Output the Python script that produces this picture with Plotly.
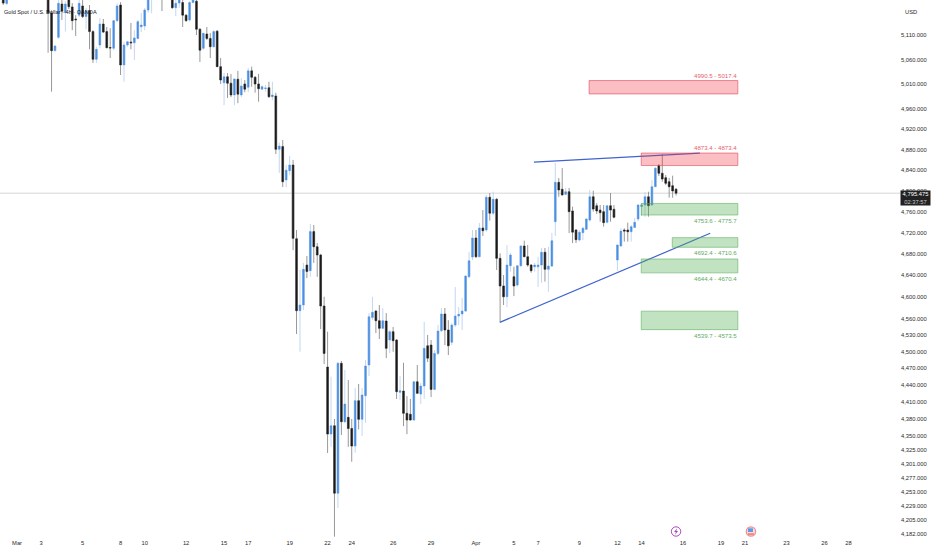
import math
import plotly.graph_objects as go

N = None

OPEN = [
    5195, 5175, N, N, N, N, N, N, N, N,
    N, N, N, 5195, 5155.4, 5077.9, 5105.3, 5174, 5156, 5186,
    5168, 5143, 5151, 5170, 5148, 5160, 5117, 5060.4, 5089.5, 5132.6,
    5117, 5084.4, 5082.8, 5139.5, 5172, 5049, 5089.5, 5095.7, 5094, 5103,
    5127, 5128.6, 5161.6, 5192, N, N, 5215, N, N, 5193,
    5166.5, 5176, 5177, 5151, 5141, 5177, 5180, 5122, 5082.8, 5112,
    5103, 5086, 5118, 5045.5, 5013, 5025, 5012, 4988.4, 5020, 4988.4,
    5010.5, 5004, 5037, 5024, 5010.5, 5000, 5001.4, 5003, 4985, 4986.4,
    4880.7, 4886, 4821, 4839, 4850, 4708.6, 4574.3, 4584.8, 4659, 4648.4,
    4722, 4693.4, 4677.8, 4583, 4472, 4353.2, 4367.8, 4251, 4478.7, 4374.8,
    4382.5, 4363, 4332.3, 4412, 4379, 4420.7, 4475.6, 4562, 4573.7, 4556,
    4542, 4555.4, 4520.8, 4536, 4520.8, 4426.8, 4429, 4389.6, 4388, 4377.8,
    4445.6, 4423.7, 4438, 4510.4, 4511.6, 4432, 4496.6, 4537.7, 4568.3, 4539,
    4516.6, 4548, 4564.6, 4568.3, 4573.7, 4637.3, 4674, 4709.9, 4674.6, 4728.9,
    4725, 4787.5, 4757, 4783.7, 4671.6, 4620, 4600, 4657.7, 4637.2, 4621.7,
    4657.7, 4694.8, 4674.6, 4659, 4655.8, 4655.8, 4659, 4683, 4651, 4657,
    4740.9, 4816.4, 4803, 4793.2, 4798.3, 4761.3, 4725, 4706, 4720, 4726.4,
    4744, 4788.6, 4771.4, 4763, 4760, 4739.7, 4771.4, 4764.5, 4668.4, 4694.8,
    4725, 4725, 4721.8, 4730, 4746, 4770, 4772.7, 4788.6, 4772.7, 4808,
    4848.7, 4834, 4825.4, 4817.6, 4809.9, 4803,
]
HIGH = [
    5200, 5200, N, N, N, N, N, N, N, N,
    N, N, N, 5200, 5161, 5089.5, 5182, 5185, 5180, 5190,
    5176, 5151, 5185, 5184, 5166, 5172, 5120, 5086, 5145, 5143,
    5126.5, 5124, 5141, 5175.5, 5178, 5096.3, 5098, 5134.7, 5120, 5141,
    5155, 5166, 5195, 5220, N, N, 5225, N, N, 5200,
    5183, 5195, 5185, 5153, 5180, 5195, 5190, 5124, 5114, 5126.5,
    5114, 5120, 5120, 5063, 5032.6, 5032.6, 5030.6, 5022.5, 5037, 5022.5,
    5018.5, 5042.7, 5045.5, 5026.5, 5030.6, 5008.5, 5008.5, 5015, 5015, 4993,
    4893.7, 4899, 4850, 4867.6, 4860, 4725, 4649.7, 4663, 4676, 4736.5,
    4734.6, 4700.4, 4680, 4600, 4535.9, 4454.6, 4379.6, 4481.5, 4482.8, 4466.6,
    4448.7, 4379.6, 4434.4, 4441.6, 4434.4, 4484.6, 4570, 4600, 4575.6, 4584.8,
    4579, 4570, 4539, 4544.4, 4522.6, 4456, 4479.7, 4420, 4415, 4447,
    4475.6, 4443.4, 4554, 4530, 4520.8, 4502.6, 4548, 4579.3, 4579.3, 4557,
    4551.8, 4618, 4581, 4597.7, 4639.3, 4683.4, 4725, 4725, 4738.4, 4763,
    4792, 4795.8, 4798.3, 4786, 4681, 4640.4, 4696.6, 4681.6, 4655.8, 4659,
    4696.6, 4704.8, 4696.6, 4661, 4663, 4674.6, 4691, 4691, 4693.4, 4719.3,
    4854, 4824.7, 4844, 4805.4, 4805.4, 4769.5, 4727, 4725, 4731.4, 4747.4,
    4801.6, 4800.3, 4776.5, 4772.7, 4772.7, 4772.7, 4795.8, 4772.7, 4697.5, 4728.3,
    4728.3, 4739, 4734.6, 4748, 4774.6, 4776.5, 4797.7, 4798.3, 4821, 4846,
    4852, 4871.5, 4830.6, 4824.7, 4829.3, 4805.4,
]
LOW = [
    5172, 5172, N, N, N, N, N, N, N, N,
    N, N, N, 5073.8, 4995, 5077, 5102, 5141, 5117, 5163.7,
    5120, 5108, 5147, 5145, 5122, 5081, 5053, 5053, 5083, 5114,
    5083, 5063, 5079, 5137.5, 5028.6, 5015, 5086, 5081, 5059, 5101,
    5116, 5120, 5156, 5155, N, N, 5159.5, N, N, 5164,
    5149, 5166, 5126.5, 5137.5, 5137.5, 5176, 5110, 5055, 5079.3, 5099.8,
    5063, 5085, 5045, 5010.5, 4968, 4982.4, 4984, 4968, 4972, 4984,
    4994, 4994, 5005, 4993, 4975, 4998.4, 4995, 4982.4, 4978, 4871.5,
    4834.5, 4807.4, 4807.4, 4830.6, 4687, 4531.7, 4499.6, 4575.6, 4634.7, 4637,
    4663, 4637, 4540.8, 4477.4, 4320.2, 4331, 4177.4, 4225.8, 4351.5, 4372.5,
    4331, 4305, 4320.7, 4361.4, 4349.7, 4373, 4456, 4557, 4533.5, 4522.6,
    4541.5, 4488, 4497, 4499.5, 4415, 4413, 4367, 4353, 4377, 4377,
    4424.6, 4406, 4415, 4481, 4418.4, 4430.9, 4493.6, 4535, 4511.6, 4493.6,
    4511.6, 4544.4, 4548, 4539, 4572.5, 4634.7, 4668.4, 4672, 4673.4, 4713.7,
    4721.8, 4742.8, 4753.7, 4649.7, 4554, 4584.8, 4581, 4646.5, 4601.3, 4618.6,
    4655.8, 4674, 4655.8, 4644.6, 4646.5, 4618, 4626, 4628, 4609.3, 4655.8,
    4713.7, 4788.6, 4791.4, 4792, 4719.3, 4700.4, 4700.4, 4703, 4706, 4725,
    4740.9, 4760, 4755.6, 4740.9, 4731.4, 4737.8, 4740.9, 4747.4, 4648.4, 4693.4,
    4703, 4703, 4703, 4729.8, 4742, 4751.7, 4749.8, 4750.4, 4770.8, 4807.4,
    4828.7, 4817.6, 4811, 4786.7, 4786.7, 4791,
]
CLOSE = [
    5176, 5195, N, N, N, N, N, N, N, N,
    N, N, N, 5156, 5077.9, 5087.5, 5175.5, 5159, 5174, 5168.5,
    5139.5, 5141.5, 5175.5, 5148, 5160, 5117, 5060.4, 5080.7, 5132.6, 5116,
    5084, 5083.4, 5139.5, 5170, 5049, 5089.5, 5096.3, 5094, 5104, 5137.5,
    5130.6, 5161.6, 5190, 5210, N, N, 5195, N, N, 5166.5,
    5175.5, 5187, 5151, 5139.5, 5177, 5189, 5122, 5079, 5113.4, 5103,
    5086, 5117, 5045.5, 5018.5, 5025, 5012, 4988.4, 5020.5, 4990, 5006.5,
    5000, 5037, 5024, 5010.5, 5001, 5005, 5002.4, 4985, 4988.4, 4880.7,
    4887, 4817.6, 4840, 4850, 4709.3, 4574.3, 4584.8, 4651, 4647, 4722,
    4693.4, 4677.8, 4583, 4496.6, 4353.2, 4367.8, 4251, 4478.7, 4374.8, 4406,
    4363, 4332.3, 4412, 4379, 4422, 4473.8, 4563.3, 4571.4, 4556, 4542,
    4556, 4505.7, 4536, 4519.5, 4428, 4429.6, 4389.6, 4377.8, 4377.8, 4445.6,
    4425, 4438, 4505.7, 4488, 4432, 4496.6, 4537, 4568.3, 4539, 4510.4,
    4548, 4564.6, 4567.7, 4573.7, 4638.5, 4667, 4709.9, 4674.6, 4728.9, 4723.7,
    4787.5, 4757, 4783.7, 4671.6, 4620, 4600, 4659, 4677.8, 4620, 4657.7,
    4694.8, 4674.6, 4659, 4648.4, 4659, 4659, 4683, 4651, 4657, 4704.8,
    4816.4, 4801.6, 4792, 4798.3, 4760, 4721, 4706.7, 4720.6, 4728.3, 4746,
    4788.6, 4765, 4761.3, 4758, 4739, 4771.4, 4763, 4749.3, 4696.6, 4723,
    4723, 4721.8, 4731.4, 4739.7, 4772.7, 4772.7, 4788.6, 4771.4, 4808, 4843.6,
    4834, 4822.8, 4814.5, 4808, 4799.7, 4795.5,
]

X_TICK_POS = [4, 11, 23, 34, 41, 53, 64, 71, 83, 94, 101, 113, 124,
              137, 148, 155, 167, 178, 185, 197, 208, 215, 227, 238, 245]
X_TICK_TEXT = ['Mar', '3', '5', '8', '10', '12', '15', '17', '19', '22', '24', '26', '29',
               'Apr', '5', '7', '9', '12', '14', '16', '19', '21', '23', '26', '28']
Y_TICKS = [5110, 5060, 5010, 4960, 4920, 4880, 4840, 4800, 4760, 4720, 4680, 4640, 4600,
           4560, 4530, 4500, 4470, 4440, 4410, 4380, 4350, 4325, 4301, 4277, 4253, 4229, 4205, 4182]

LAST_PRICE = 4795.475
COUNTDOWN = '02:37:57'

RED_LOW = [4990.5, 4849.0]
RED_HIGH = [5017.4, 4873.4]
RED_LEFT = [169.8, 184.9]
RED_TEXT = ['4990.5 - 5017.4', '4873.4 - 4873.4']

GREEN_LOW = [4753.6, 4692.4, 4644.4, 4539.7]
GREEN_HIGH = [4775.7, 4710.6, 4670.4, 4573.5]
GREEN_LEFT = [184.9, 193.9, 184.9, 184.9]
GREEN_TEXT = ['4753.6 - 4775.7', '4692.4 - 4710.6', '4644.4 - 4670.4', '4539.7 - 4573.5']
ZONE_RIGHT = 212.9

TREND_X = [[153.8, 201.9], [143.9, 204.9]]
TREND_Y = [[4855.5, 4873.2], [4553.0, 4718.8]]

X_RANGE = [-0.94, 259.9]
Y_RANGE = [4175.2, 5182.4]

BLUE = '#4a90e2'
BLACK = '#1b1b1b'
TICK_FONT = dict(family='Liberation Sans', size=5.8, color='#2a2a2a')


def add_candles(fig):
    xs = list(range(len(OPEN)))
    # wicks first in a paler tone, bodies on top without wicks
    fig.add_trace(go.Candlestick(
        x=xs, open=OPEN, high=HIGH, low=LOW, close=CLOSE,
        increasing=dict(line=dict(color='#bcd3f2', width=0.9), fillcolor='rgba(0,0,0,0)'),
        decreasing=dict(line=dict(color='#8c8c8c', width=0.9), fillcolor='rgba(0,0,0,0)'),
        whiskerwidth=0, hoverinfo='skip', showlegend=False,
    ))
    tops = [None if o is None else max(o, c) for o, c in zip(OPEN, CLOSE)]
    bots = [None if o is None else min(o, c) for o, c in zip(OPEN, CLOSE)]
    fig.add_trace(go.Candlestick(
        x=xs, open=OPEN, high=tops, low=bots, close=CLOSE,
        increasing=dict(line=dict(color=BLUE, width=0.3), fillcolor=BLUE),
        decreasing=dict(line=dict(color=BLACK, width=0.3), fillcolor=BLACK),
        whiskerwidth=0, hoverinfo='skip', showlegend=False,
    ))


def add_zones(fig):
    for lo, hi, left, label in zip(RED_LOW, RED_HIGH, RED_LEFT, RED_TEXT):
        fig.add_shape(type='rect', x0=left, x1=ZONE_RIGHT, y0=lo, y1=hi, layer='above',
                      fillcolor='rgba(242,54,69,0.32)', line=dict(color='rgba(225,60,80,0.7)', width=0.8))
        fig.add_annotation(x=ZONE_RIGHT, y=math.log10(hi), text=label, showarrow=False,
                           xanchor='right', yanchor='bottom', yshift=0, xshift=1, borderpad=1,
                           font=dict(family='Liberation Sans', size=6.1, color='#e5606f'))
    for lo, hi, left, label in zip(GREEN_LOW, GREEN_HIGH, GREEN_LEFT, GREEN_TEXT):
        fig.add_shape(type='rect', x0=left, x1=ZONE_RIGHT, y0=lo, y1=hi, layer='above',
                      fillcolor='rgba(76,175,80,0.35)', line=dict(color='rgba(90,170,90,0.7)', width=0.8))
        fig.add_annotation(x=ZONE_RIGHT, y=math.log10(lo), text=label, showarrow=False,
                           xanchor='right', yanchor='top', yshift=0, xshift=1, borderpad=1,
                           font=dict(family='Liberation Sans', size=6.1, color='#62ab66'))


def add_icons(fig):
    yp = 1 - 531.5 / 538
    common = dict(xsizemode='pixel', ysizemode='pixel', yref='paper', yanchor=yp, layer='above')
    fig.add_shape(type='circle', xanchor=195, x0=-4.7, x1=4.7, y0=-4.7, y1=4.7,
                  fillcolor='white', line=dict(color='#ab47bc', width=1), **common)
    fig.add_shape(type='path', xanchor=195, path='M 1 3.2 L -2 -0.5 L -0.2 -0.5 L -1 -3.2 L 2 0.5 L 0.2 0.5 Z',
                  fillcolor='#ab47bc', line_width=0, **common)
    fig.add_shape(type='circle', xanchor=216.7, x0=-4.7, x1=4.7, y0=-4.7, y1=4.7,
                  fillcolor='#f7dada', line=dict(color='#ef8f8f', width=1.2), **common)
    fig.add_shape(type='rect', xanchor=216.7, x0=-3, x1=2, y0=-0.5, y1=3.2,
                  fillcolor='#5b9be8', line_width=0, **common)
    fig.add_shape(type='rect', xanchor=216.7, x0=-3, x1=3, y0=-3.3, y1=-1.8,
                  fillcolor='#ee7777', line_width=0, **common)


def make_plot():
    fig = go.Figure()
    add_candles(fig)

    fig.add_shape(type='line', xref='paper', x0=0, x1=1, y0=LAST_PRICE, y1=LAST_PRICE,
                  line=dict(color='#d6d6d6', width=1), layer='below')
    add_zones(fig)
    for xs, ys in zip(TREND_X, TREND_Y):
        fig.add_trace(go.Scatter(x=xs, y=ys, mode='lines', hoverinfo='skip', showlegend=False,
                                 line=dict(color='#3f63cf', width=1.2)))
    add_icons(fig)

    fig.add_annotation(xref='paper', yref='paper', x=0.0025, y=1 - 7.5 / 538, showarrow=False,
                       text='Gold Spot / U.S. Dollar · 4h · OANDA', xanchor='left',
                       font=dict(family='Liberation Sans', size=5.6, color='#131722'))
    fig.add_annotation(xref='paper', yref='paper', x=1 + 10.5 / 900, y=1 - 7.5 / 538, showarrow=False,
                       text='USD', xanchor='center', font=TICK_FONT)
    fig.add_annotation(xref='paper', x=1, y=math.log10(LAST_PRICE), yshift=3, showarrow=False,
                       xanchor='left', yanchor='top', width=29, height=14, bgcolor='#222222', borderpad=0,
                       text=f'{LAST_PRICE:,.3f}<br><span style="color:#c8c8c8">{COUNTDOWN}</span>',
                       font=dict(family='Liberation Sans', size=5.8, color='white'))

    fig.update_layout(
        width=932, height=550,
        margin=dict(l=0, r=32, t=0, b=12),
        plot_bgcolor='white', paper_bgcolor='white',
        showlegend=False,
        xaxis=dict(
            range=X_RANGE, rangeslider_visible=False, showgrid=False, zeroline=False, showline=False,
            tickmode='array', tickvals=X_TICK_POS, ticktext=X_TICK_TEXT, ticklen=0,
            tickangle=0, tickfont=TICK_FONT,
        ),
        yaxis=dict(
            type='log', side='right', range=[math.log10(Y_RANGE[0]), math.log10(Y_RANGE[1])],
            showgrid=False, zeroline=False, showline=False,
            tickmode='array', tickvals=Y_TICKS, ticktext=[f'{t:,.3f}' for t in Y_TICKS],
            ticklen=5, tickcolor='white', tickfont=TICK_FONT,
        ),
    )
    return fig


def main():
    fig = make_plot()
    fig.write_html('out.html', config=dict(displayModeBar=False),
                   post_script="document.body.style.margin='0';")


if __name__ == '__main__':
    main()
